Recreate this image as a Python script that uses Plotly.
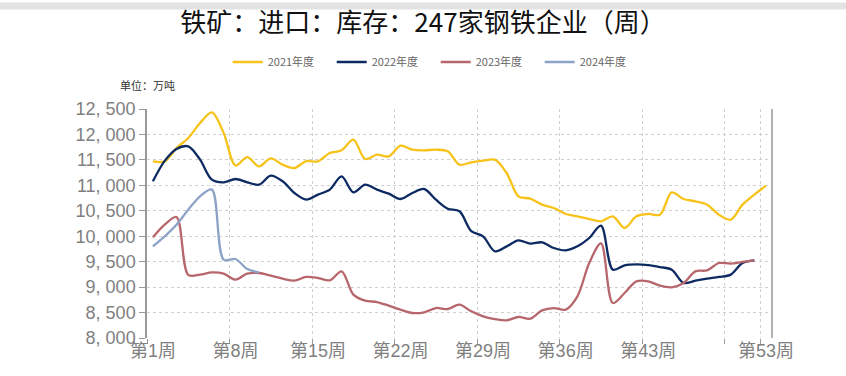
import plotly.graph_objects as go

weeks = list(range(1, 54))
y2021 = [11470, 11470, 11730, 11930, 12225, 12434, 12030, 11390, 11556, 11373,
         11530, 11406, 11340, 11475, 11471, 11635, 11688, 11897, 11517, 11602,
         11570, 11779, 11700, 11688, 11700, 11668, 11406, 11452, 11485, 11504,
         11242, 10784, 10738, 10620, 10555, 10437, 10391, 10338, 10293, 10391,
         10162, 10391, 10437, 10424, 10862, 10731, 10686, 10620, 10424, 10325,
         10620, 10817, 10993]
y2022 = [11079, 11480, 11714, 11766, 11504, 11111, 11059, 11124, 11059, 11013,
         11190, 11079, 10849, 10718, 10817, 10915, 11177, 10862, 11013, 10915,
         10836, 10731, 10849, 10928, 10718, 10541, 10490, 10100, 9998, 9703,
         9801, 9919, 9854, 9880, 9768, 9722, 9801, 9965, 10207, 9343,
         9428, 9448, 9434, 9395, 9343, 9081, 9127, 9166, 9199, 9245,
         9474, 9526]
y2023 = [9978, 10227, 10378, 9240, 9244, 9290, 9264, 9146, 9264, 9277,
         9225, 9166, 9127, 9199, 9179, 9133, 9310, 8852, 8734, 8707,
         8635, 8557, 8491, 8504, 8589, 8570, 8655, 8524, 8426, 8373,
         8347, 8413, 8380, 8544, 8589, 8557, 8819, 9474, 9860, 8688,
         8884, 9113, 9113, 9028, 8996, 9081, 9310, 9330, 9474, 9461,
         9494, 9526]
y2024 = [9801, 9998, 10227, 10522, 10784, 10915, 9539, 9552, 9355, 9290]

series_names = ["2021年度", "2022年度", "2023年度", "2024年度"]
series_values = [y2021, y2022, y2023, y2024]
colors = ["#F7C31A", "#0D2B62", "#B7676C", "#8CA2C6"]

label_weeks = [1, 8, 15, 22, 29, 36, 43, 53]
label_text = [f"第{w}周" for w in label_weeks]
boundary_weeks = [1, 8, 15, 22, 29, 36, 43, 50, 53]

y_ticks = list(range(8000, 12501, 500))
y_text = [f"{v:,}".replace(",", ", ") for v in y_ticks]

fig = go.Figure()
for name, vals, c in zip(series_names, series_values, colors):
    fig.add_trace(go.Scatter(
        x=weeks[:len(vals)], y=vals, name=name, mode="lines",
        line=dict(color=c, width=2.3, shape="spline", smoothing=0.9),
    ))

tick_font = dict(family="Liberation Sans, Noto Sans CJK SC", size=18, color="#808080")
grid_col = "#cfcfcf"

fig.update_layout(
    width=846, height=376,
    margin=dict(l=147, r=74, t=109, b=38),
    paper_bgcolor="white", plot_bgcolor="white",
    title=dict(text="铁矿：进口：库存：247家钢铁企业（周）",
               font=dict(family="Noto Sans CJK SC", size=26, color="#111111"),
               x=0.5, xref="container", xanchor="center",
               y=1 - 23 / 376, yref="container", yanchor="middle"),
    legend=dict(orientation="h", xref="container", x=0.515, xanchor="center",
                yref="container", y=1 - 62 / 376, yanchor="middle",
                font=dict(family="Noto Sans CJK SC", size=11, color="#666666"),
                itemwidth=30, entrywidth=59, entrywidthmode="pixels"),
    showlegend=True,
    xaxis=dict(
        range=[0.5, 53.5], tickmode="array", tickvals=label_weeks, ticktext=label_text,
        ticks="", showgrid=False, showline=False, zeroline=False,
        tickfont=tick_font,
        minor=dict(tickmode="array", tickvals=[w - 0.5 for w in boundary_weeks],
                   ticks="outside", ticklen=5, tickcolor="#999999", tickwidth=1,
                   showgrid=True, gridcolor=grid_col, griddash="dot", gridwidth=1),
    ),
    yaxis=dict(
        range=[8000, 12500], tickmode="array", tickvals=y_ticks, ticktext=y_text,
        ticks="outside", ticklen=6, tickcolor="#999999",
        showline=True, linecolor="#999999", linewidth=1.5,
        showgrid=True, gridcolor=grid_col, griddash="dot", gridwidth=1,
        zeroline=False, tickfont=tick_font,
    ),
)

# right border line and top strip
fig.add_shape(type="line", xref="paper", yref="paper", x0=1, x1=1, y0=0, y1=1,
              line=dict(color="#999999", width=1.5))
plot_h = 376 - 109 - 38
plot_w = 846 - 147 - 74
fig.add_shape(type="rect", xref="paper", yref="paper",
              x0=-147 / plot_w, x1=(846 - 147) / plot_w,
              y0=(plot_h + 109 - 9.5) / plot_h, y1=(plot_h + 109 - 2.5) / plot_h,
              fillcolor="#e3e3e3", line=dict(width=0), layer="above")

fig.add_annotation(text="单位：万吨", xref="paper", yref="paper",
                   x=(118 - 147) / plot_w, xanchor="left",
                   y=(plot_h + 109 - 85) / plot_h, yanchor="middle",
                   showarrow=False,
                   font=dict(family="Noto Sans CJK SC", size=11, color="#333333"))

fig.write_html("out.html", config={"displayModeBar": False},
               post_script="document.body.style.margin='0';")
